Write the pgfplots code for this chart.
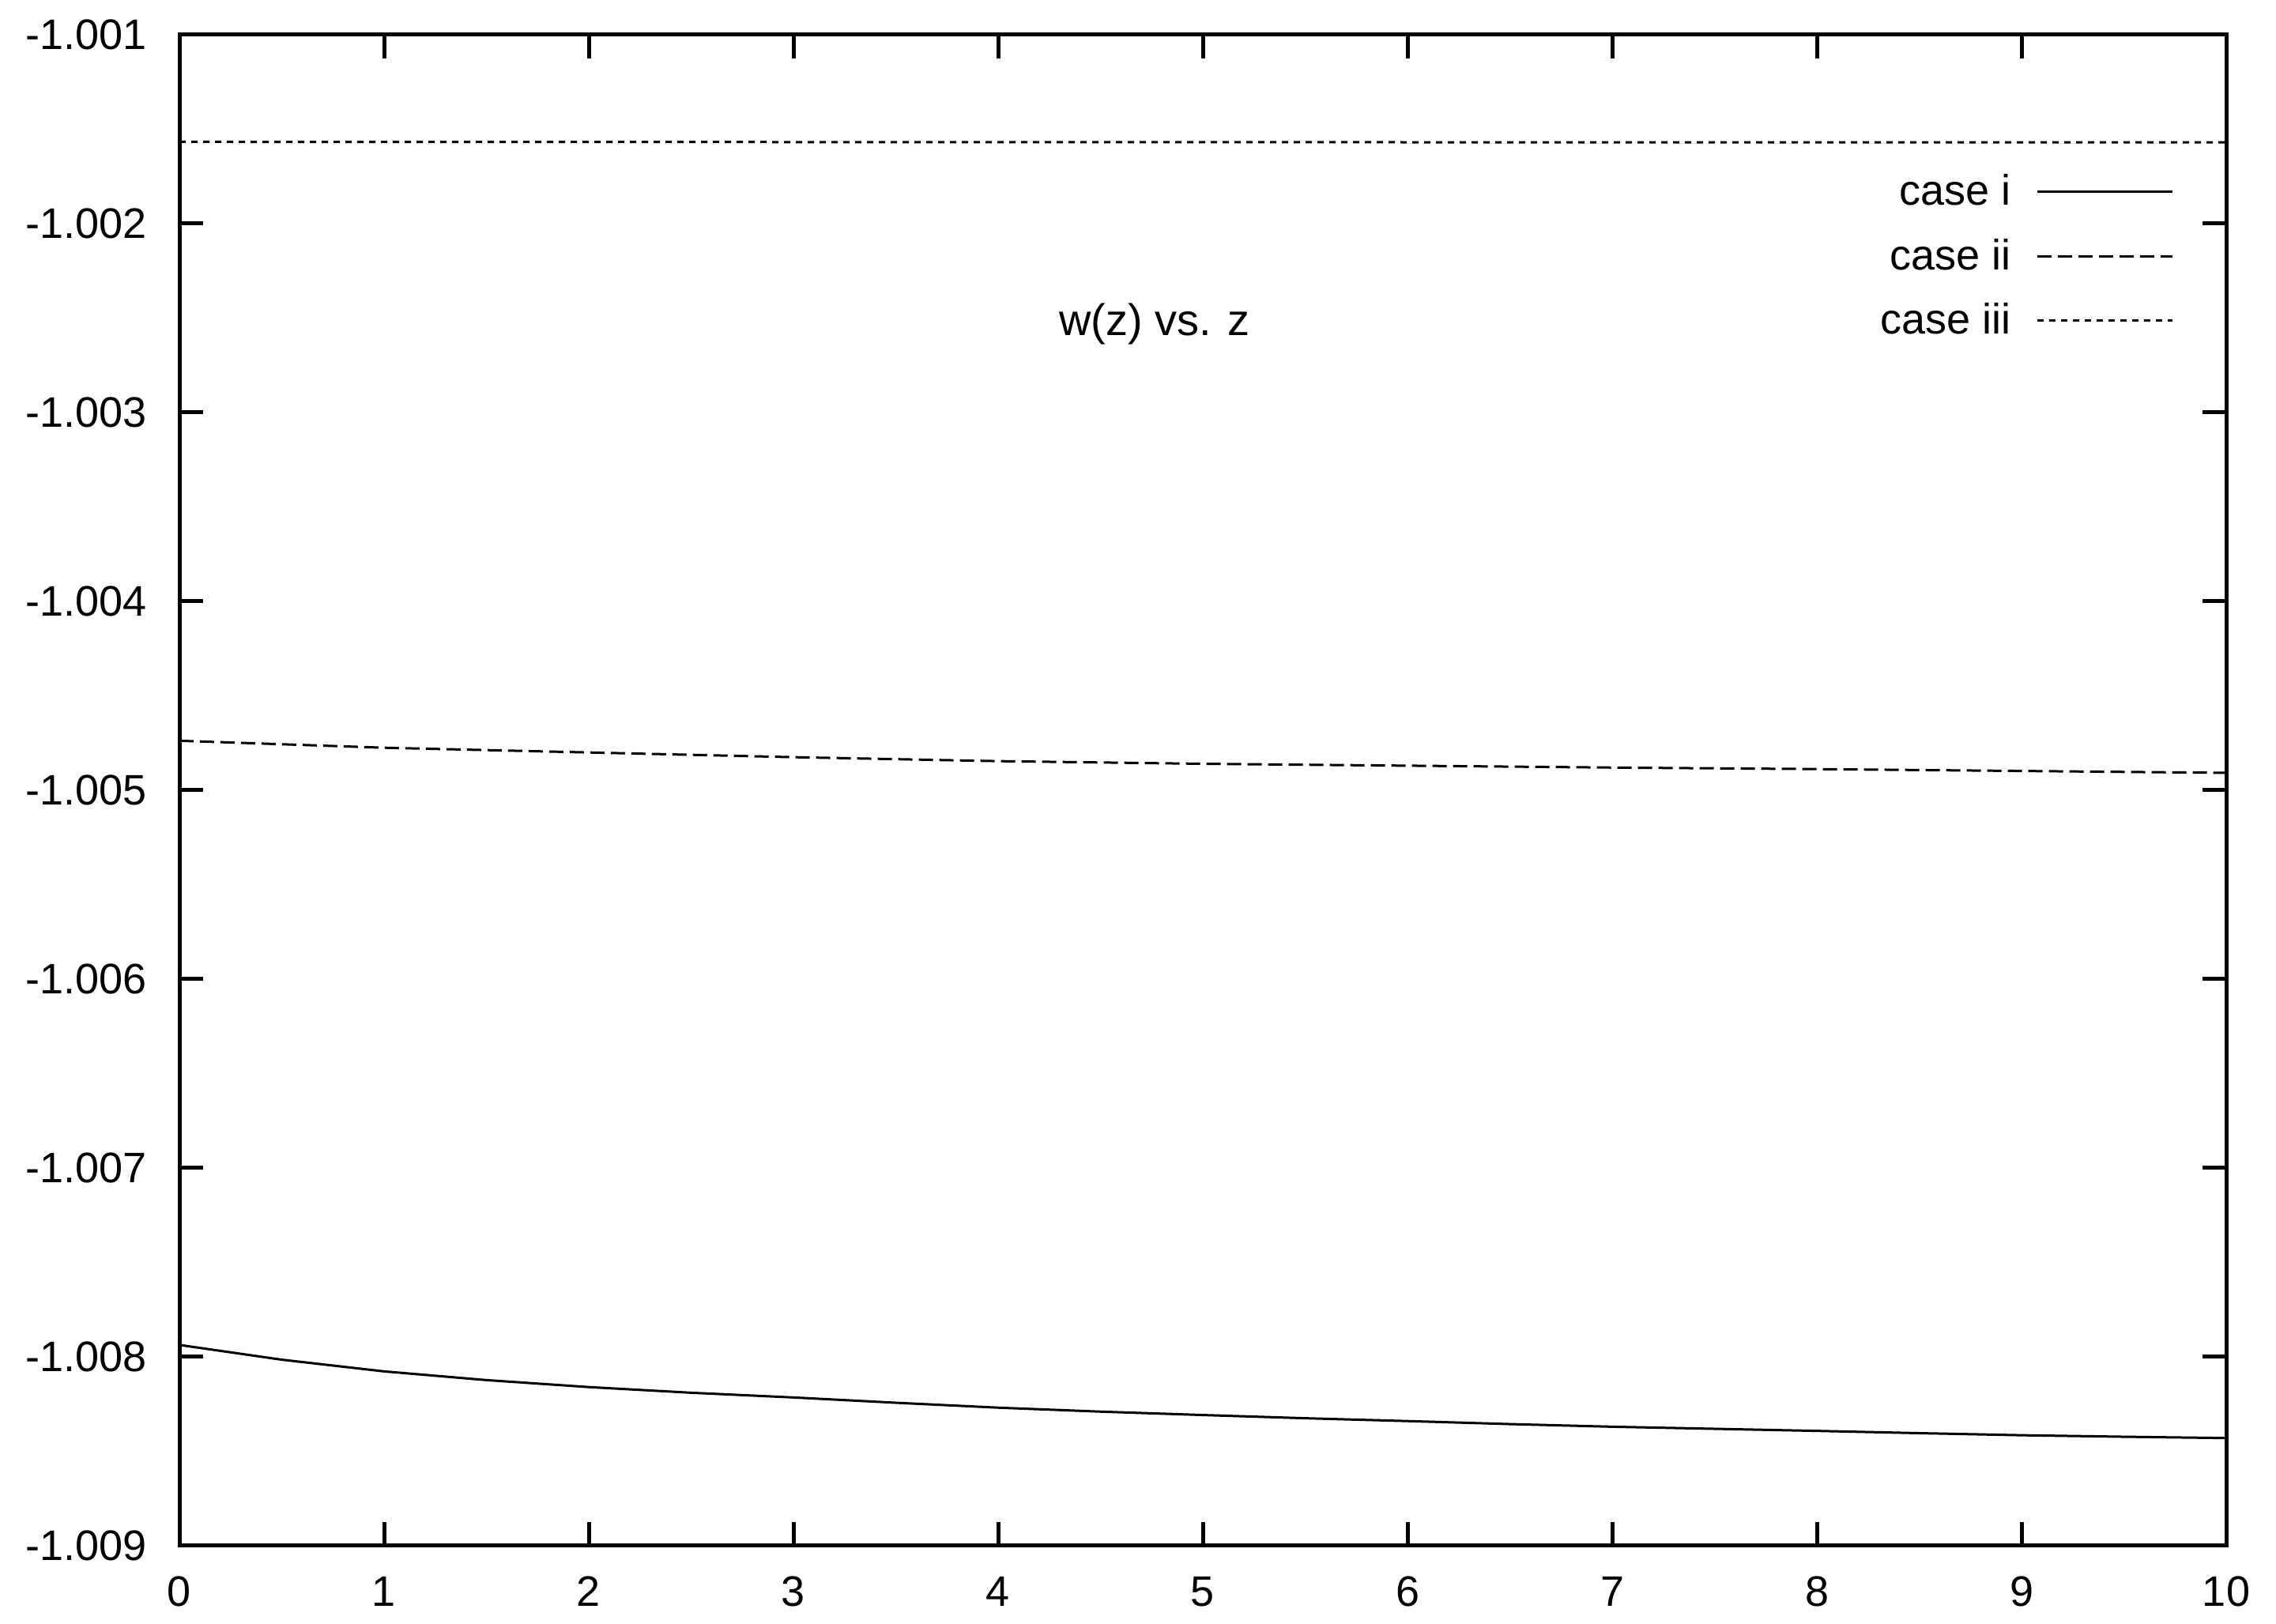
\documentclass[border=0pt]{standalone}
\usepackage{fontspec}
\setmainfont{Liberation Sans}
\usepackage{pgfplots}
\pgfplotsset{compat=1.18}
\begin{document}
\begin{tikzpicture}
\begin{axis}[
  name=ax,
  scale only axis,
  width=647.5pt, height=478pt,
  xmin=0, xmax=10, ymin=-1.009, ymax=-1.001,
  xtick={0,1,...,10},
  ytick={-1.009,-1.008,-1.007,-1.006,-1.005,-1.004,-1.003,-1.002,-1.001},
  yticklabels={-1.009,-1.008,-1.007,-1.006,-1.005,-1.004,-1.003,-1.002,-1.001},
  /pgf/number format/assume math mode=true,
  tick align=inside,
  major tick length=7.5pt,
  tick style={line width=1.25pt, black},
  axis line style={line width=1.25pt},
  every axis/.append style={font=\fontsize{13.5}{16}\selectfont},
  ticklabel style={font=\fontsize{13.5}{16}\selectfont},
  yticklabel style={xshift=-6.75pt},
  xticklabel style={yshift=-6.3pt},
  legend plot pos=right,
  legend cell align=right,
  legend image code/.code={\draw[#1] (0pt,0pt) -- (42.7pt,0pt);},
  legend style={draw=none, fill=none, at={(1,1)}, anchor=north east,
    xshift=-16.5pt, yshift=-43.9pt, inner sep=0pt, row sep=9.1pt,
    font=\fontsize{13.5}{16}\selectfont,
    nodes={inner sep=0pt},
    /tikz/every odd column/.style={column sep=8pt}},
]
\addplot[black, line width=0.75pt] coordinates {
(0,-1.007937) (0.5,-1.008015) (1,-1.008077) (1.5,-1.008123) (2,-1.008160)
(2.5,-1.008190) (3,-1.008215) (3.5,-1.008243) (4,-1.008269) (4.5,-1.008290)
(5,-1.008308) (5.5,-1.008325) (6,-1.008340) (6.5,-1.008356) (7,-1.008370)
(7.5,-1.008381) (8,-1.008392) (8.5,-1.008404) (9,-1.008415) (9.5,-1.008423)
(10,-1.008430)};
\addlegendentry{case i}
\addplot[black, line width=0.75pt, dash pattern=on 4.5pt off 2pt] coordinates {
(0,-1.004738) (1,-1.004775) (2,-1.004800) (3,-1.004825) (4,-1.004846)
(5,-1.004860) (6,-1.004870) (7,-1.004880) (8,-1.004888) (9,-1.004898)
(10,-1.004908)};
\addlegendentry{case ii}
\addplot[black, line width=0.75pt, dash pattern=on 2pt off 1.75pt] coordinates {
(0,-1.001567) (5,-1.001569) (10,-1.001570)};
\addlegendentry{case iii}
\node[font=\fontsize{14}{16}\selectfont] at (axis cs:4.764,-1.002531) {w(z) vs. z};
\end{axis}
\pgfresetboundingbox
\path ([shift={(-56.75pt,-24.75pt)}]ax.south west) rectangle ([shift={(15.75pt,11pt)}]ax.north east);
\end{tikzpicture}
\end{document}
